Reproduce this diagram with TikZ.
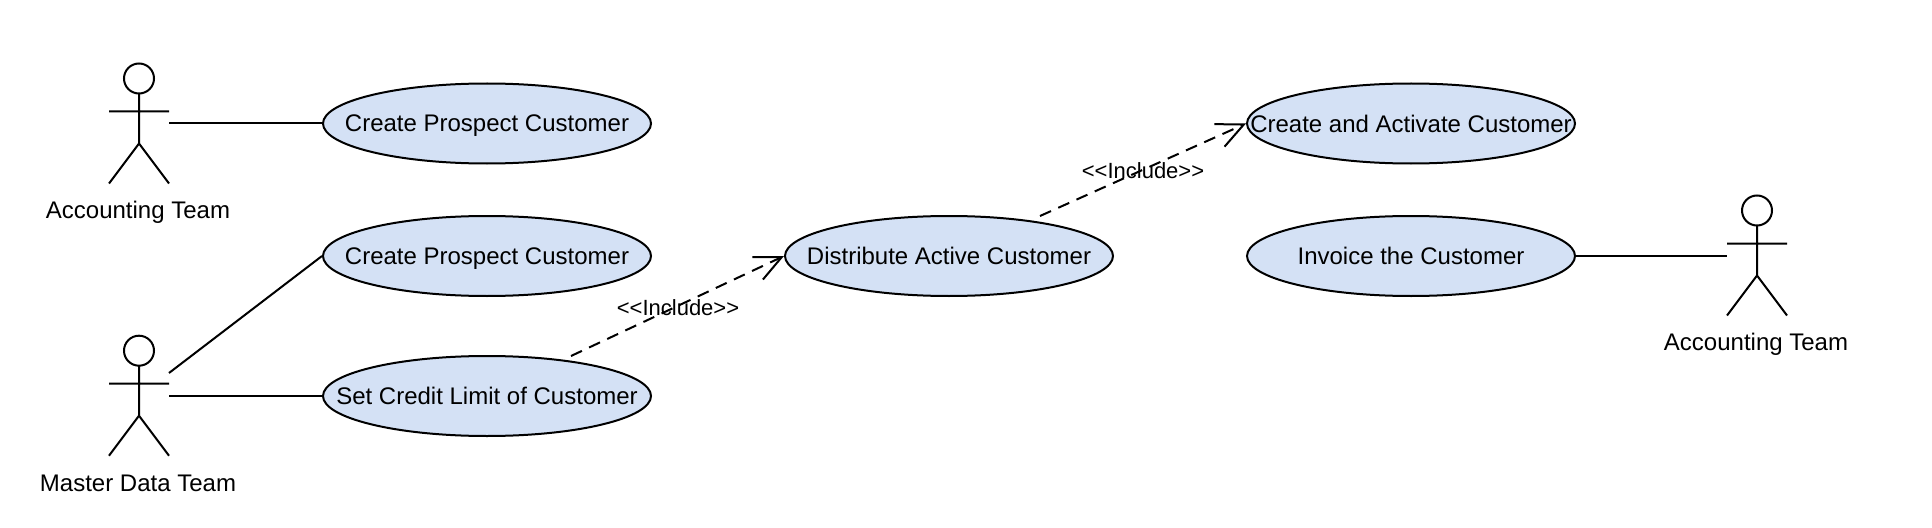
\documentclass[tikz,border=0pt]{standalone}
\usepackage{fontspec}
\setmainfont{Liberation Sans}
\usetikzlibrary{arrows.meta,shapes.geometric}
\definecolor{ucfill}{HTML}{D4E1F5}
\newcommand{\uctext}[1]{\makebox[0pt][c]{\rule[-3pt]{0pt}{19.2pt}#1}}
\tikzset{
  x=0.75pt,y=-0.75pt,
  ucase/.style={draw=black,fill=ucfill,line width=1.5pt,ellipse,minimum width=246pt,minimum height=60pt,inner sep=0pt,font=\fontsize{18pt}{20pt}\selectfont},
  assoc/.style={draw=black,line width=1.5pt},
  incl/.style={draw=black,line width=1.5pt,dash pattern=on 9pt off 6pt,-{Straight Barb[length=20pt,width=18.5pt,line width=1.5pt]}},
  stick/.style={draw=black,line width=1.5pt},
  actlabel/.style={font=\fontsize{18pt}{20pt}\selectfont,inner sep=0pt},
  incllabel/.style={font=\fontsize{16.5pt}{18pt}\selectfont,inner sep=0pt}
}
\newcommand{\stickman}[2]{%
  \draw[stick] (#1,#2+15) circle[radius=11.25pt];
  \draw[stick] (#1,#2+30) -- (#1,#2+80) (#1-30,#2+48) -- (#1+30,#2+48) (#1-30,#2+120) -- (#1,#2+80) -- (#1+30,#2+120);
}
\begin{document}
\begin{tikzpicture}
\useasboundingbox (0,-1) rectangle (1932,527);
\stickman{139}{62.5}
\stickman{139}{334.7}
\stickman{1757}{194.5}
\node[actlabel] (l1) at (138,211.5) {Accounting Team};
\node[actlabel] (l2) at (138,482) {Master Data Team};
\node[actlabel] (l3) at (1756,343.5) {Accounting Team};
\node[ucase] (e1) at (487,122.5) {\uctext{Create Prospect Customer}};
\node[ucase] (e2) at (487,255) {\uctext{Create Prospect Customer}};
\node[ucase] (e3) at (487,395) {\uctext{Set Credit Limit of Customer}};
\node[ucase] (d) at (949,255) {\uctext{Distribute Active Customer}};
\node[ucase] (ca) at (1411,122.5) {\uctext{Create and Activate Customer}};
\node[ucase] (inv) at (1411,255) {\uctext{Invoice the Customer}};
\coordinate (a1) at (169,122.5);
\coordinate (a2) at (169,372);
\coordinate (a3) at (169,395);
\coordinate (a4) at (1727,255);
\coordinate (s1) at (571,355);
\coordinate (s2) at (1040,215);
\draw[assoc] (a1) -- (e1.west);
\draw[assoc] (a2) -- (e2.west);
\draw[assoc] (a3) -- (e3.west);
\draw[assoc] (inv.east) -- (a4);
\draw[incl] (s1) -- (d.west);
\draw[incl] (s2) -- (ca.west);
\node[incllabel] (i1) at (678,306.5) {<{}<Include>{}>};
\node[incllabel] (i2) at (1143,170) {<{}<Include>{}>};
\end{tikzpicture}
\end{document}
